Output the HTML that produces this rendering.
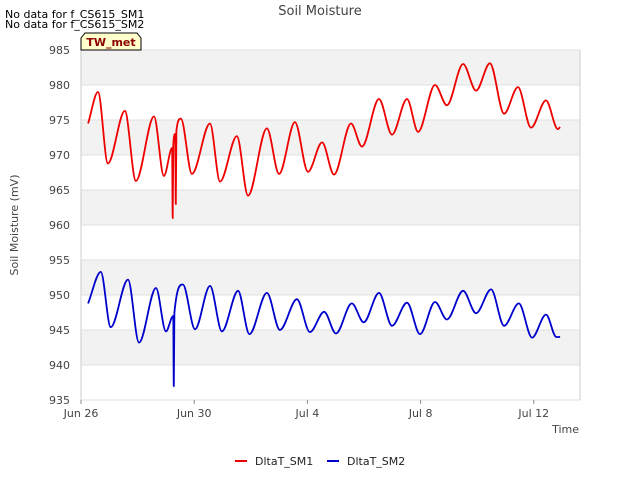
<!DOCTYPE html>
<html><head><meta charset="utf-8"><style>
body{margin:0;background:#fff;font-family:"DejaVu Sans","Liberation Sans",sans-serif}
svg text{font-family:"DejaVu Sans","Liberation Sans",sans-serif}
</style></head><body>
<svg id="chart" width="640" height="480" xmlns="http://www.w3.org/2000/svg">
<rect width="640" height="480" fill="#fff"/>
<text x="320" y="15" text-anchor="middle" font-size="13" fill="#444">Soil Moisture</text>
<text x="5" y="18" font-size="11" fill="#000">No data for f_CS615_SM1</text>
<text x="5" y="28" font-size="11" fill="#000">No data for f_CS615_SM2</text>
<g id="bands"></g>
<rect x="81" y="50" width="499" height="350" fill="none" stroke="#ccc"/>
<g id="axes"></g>
<g id="series"></g>
<g>
<path d="M81,50 L81,38 L85,33 L137,33 L141,38 L141,50 Z" fill="#ffffcc" stroke="#000" stroke-width="1"/>
<text x="111" y="46" text-anchor="middle" font-size="11" font-weight="bold" fill="#8b0000">TW_met</text>
</g>
<text transform="translate(18,225) rotate(-90)" text-anchor="middle" font-size="11" fill="#444">Soil Moisture (mV)</text>
<text x="579" y="433" text-anchor="end" font-size="11" fill="#444">Time</text>
<g>
<line x1="235" y1="461" x2="247" y2="461" stroke="#e00" stroke-width="2"/>
<text x="255" y="465" font-size="11" fill="#222">DltaT_SM1</text>
<line x1="327" y1="461" x2="339" y2="461" stroke="#00c" stroke-width="2"/>
<text x="347" y="465" font-size="11" fill="#222">DltaT_SM2</text>
</g>
</svg>
<script>
const sm1Days=[0.25,0.60,0.95,1.55,1.94,2.58,2.93,3.22,3.24,3.26,3.33,3.35,3.37,3.53,3.92,4.56,4.91,5.51,5.90,6.57,7.00,7.56,8.02,8.52,8.94,9.54,9.93,10.53,10.99,11.52,11.91,12.51,12.93,13.50,13.96,14.45,14.95,15.44,15.90,16.43,16.85,16.93];
const sm1Vals=[974.5,979,968.8,976.3,966.3,975.5,967,971,961,971.5,973,963,973.5,975.2,967.3,974.5,966.2,972.7,964.2,973.8,967.3,974.7,967.6,971.8,967.2,974.5,971.2,978,972.9,978,973.3,980,977.1,983,979.2,983.1,975.9,979.7,973.9,977.8,973.7,974];
const sm2Days=[0.25,0.70,1.05,1.66,2.05,2.65,3.0,3.26,3.28,3.30,3.60,4.03,4.56,4.98,5.55,5.95,6.57,7.03,7.63,8.09,8.59,9.01,9.57,9.99,10.53,10.99,11.52,11.98,12.51,12.93,13.50,13.96,14.49,14.95,15.47,15.94,16.43,16.80,16.93];
const sm2Vals=[948.8,953.3,945.4,952.2,943.2,951,944.8,947,937,947.5,951.5,945.1,951.3,944.8,950.6,944.4,950.3,945,949.4,944.7,947.6,944.5,948.8,946.1,950.3,945.6,948.9,944.4,949,946.5,950.6,947.4,950.8,945.6,948.8,943.9,947.2,944,944];
const yTicks=[935,940,945,950,955,960,965,970,975,980,985];
const xTickDays=[0,4,8,12,16];
const xTickLabels=["Jun 26","Jun 30","Jul 4","Jul 8","Jul 12"];
const NS="http://www.w3.org/2000/svg";
const X0=81,X1=580,Y0=400,Y1=50,PXD=28.3;
function xs(d){return X0+d*PXD;}
function ys(v){return Y0-(v-935)*(Y0-Y1)/50;}
function mk(tag,attrs,parent){const e=document.createElementNS(NS,tag);for(const k in attrs)e.setAttribute(k,attrs[k]);parent.appendChild(e);return e;}
const bands=document.getElementById('bands'),axes=document.getElementById('axes'),series=document.getElementById('series');
for(let i=0;i<yTicks.length-1;i++){
  const lo=yTicks[i],hi=yTicks[i+1];
  const r=mk('rect',{x:X0,y:ys(hi),width:X1-X0,height:ys(lo)-ys(hi),fill:(i%2===1)?'#f2f2f2':'#fff'},bands);
  
  
}
yTicks.forEach(v=>{
  const l=mk('line',{x1:X0,x2:X1,y1:ys(v),y2:ys(v),stroke:'#e0e0e0'},axes);
  
  
  const t=mk('text',{x:X0-11,y:ys(v)+4,'text-anchor':'end','font-size':'11',fill:'#444'},axes);
  t.textContent=v;
  
  
});
xTickDays.forEach((d,i)=>{
  const l=mk('line',{x1:xs(d),x2:xs(d),y1:Y0,y2:Y0+4,stroke:'#888'},axes);
  
  
  const t=mk('text',{x:xs(d),y:Y0+17,'text-anchor':'middle','font-size':'11',fill:'#444'},axes);
  t.textContent=xTickLabels[i];
  
  
});
function monoPath(px,py){
  const n=px.length,m=new Array(n).fill(0),d=[];
  for(let i=0;i<n-1;i++)d.push((py[i+1]-py[i])/(px[i+1]-px[i]));
  m[0]=d[0];m[n-1]=d[n-2];
  for(let i=1;i<n-1;i++){m[i]=(d[i-1]*d[i]<=0)?0:(d[i-1]+d[i])/2;}
  for(let i=0;i<n-1;i++){if(d[i]===0){m[i]=m[i+1]=0;continue;}const a=m[i]/d[i],b=m[i+1]/d[i],s=a*a+b*b;if(s>9){const t=3/Math.sqrt(s);m[i]=t*a*d[i];m[i+1]=t*b*d[i];}}
  let p='M'+px[0].toFixed(1)+','+py[0].toFixed(1);
  for(let i=0;i<n-1;i++){const h=(px[i+1]-px[i])/3;p+=' C'+(px[i]+h).toFixed(1)+','+(py[i]+m[i]*h).toFixed(1)+' '+(px[i+1]-h).toFixed(1)+','+(py[i+1]-m[i+1]*h).toFixed(1)+' '+px[i+1].toFixed(1)+','+py[i+1].toFixed(1);}
  return p;
}
const p1=mk('path',{d:monoPath(sm1Days.map(xs),sm1Vals.map(ys)),fill:'none',stroke:'#e00','stroke-width':'1.8'},series);


const p2=mk('path',{d:monoPath(sm2Days.map(xs),sm2Vals.map(ys)),fill:'none',stroke:'#00c','stroke-width':'1.8'},series);


</script>
</body></html>
